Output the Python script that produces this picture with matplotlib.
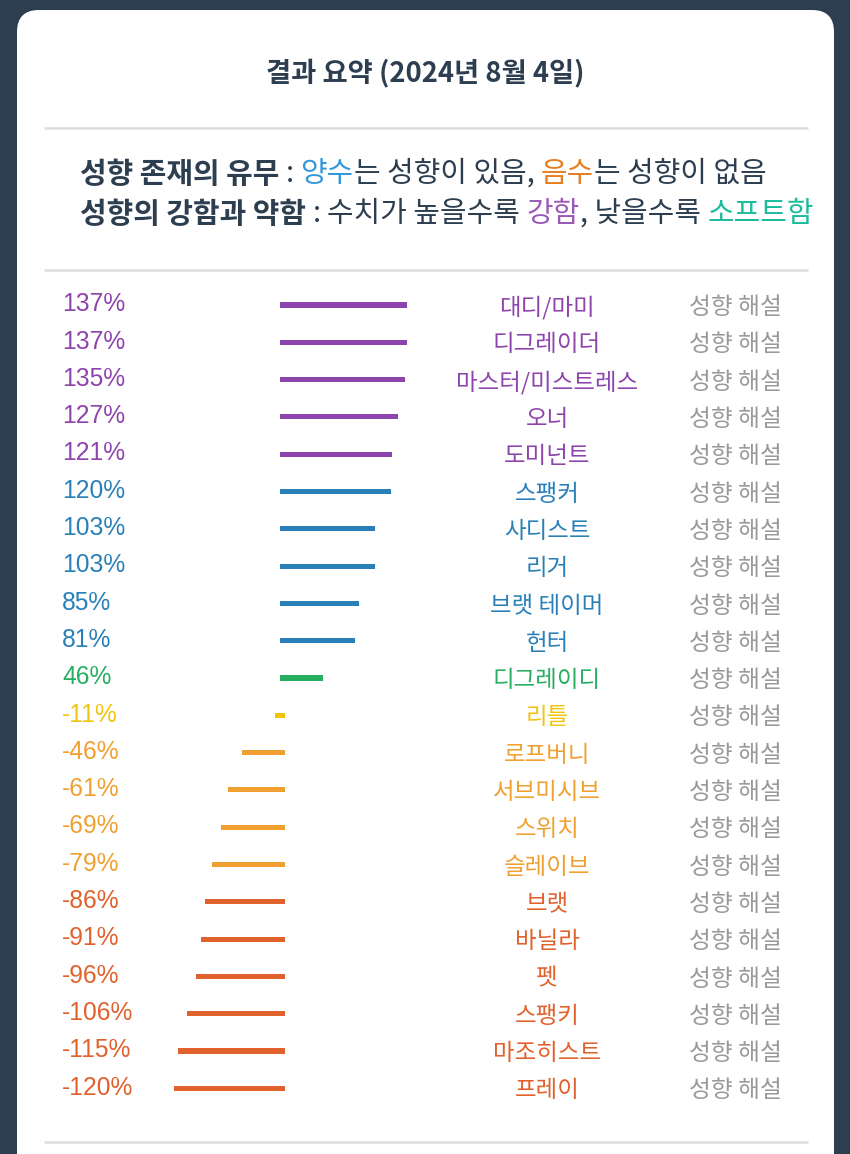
import numpy as np
import matplotlib
matplotlib.use("Agg")
import matplotlib.pyplot as plt
from matplotlib.patches import FancyBboxPatch
from matplotlib.transforms import blended_transform_factory

KR = ["Noto Sans CJK KR", "DejaVu Sans"]
NUM = ["Liberation Sans", "DejaVu Sans"]

names = ["대디/마미", "디그레이더", "마스터/미스트레스", "오너", "도미넌트",
         "스팽커", "사디스트", "리거", "브랫 테이머", "헌터",
         "디그레이디", "리틀", "로프버니", "서브미시브", "스위치",
         "슬레이브", "브랫", "바닐라", "펫", "스팽키", "마조히스트", "프레이"]
values = [137, 137, 135, 127, 121, 120, 103, 103, 85, 81, 46,
          -11, -46, -61, -69, -79, -86, -91, -96, -106, -115, -120]
groups = ["purple"] * 5 + ["blue"] * 5 + ["green"] + ["yellow"] + \
         ["orange"] * 4 + ["red"] * 6

palette = {
    "purple": "#8e44ad",
    "blue": "#2980b9",
    "green": "#27ae60",
    "yellow": "#f1c40f",
    "orange": "#f0a030",
    "red": "#e1612d",
}
DARK = "#2c3e50"

title = "결과 요약 (2024년 8월 4일)"
line1 = [("성향 존재의 유무", DARK, "bold"), (" : ", DARK, "normal"),
         ("양수", "#3498db", "normal"), ("는 성향이 있음, ", DARK, "normal"),
         ("음수", "#e67e22", "normal"), ("는 성향이 없음", DARK, "normal")]
line2 = [("성향의 강함과 약함", DARK, "bold"), (" : ", DARK, "normal"),
         ("수치가 높을수록 ", DARK, "normal"), ("강함", "#9b59b6", "normal"),
         (", 낮을수록 ", DARK, "normal"), ("소프트함", "#1abc9c", "normal")]

W, H = 850, 1154
fig = plt.figure(figsize=(W / 100, H / 100), dpi=100)
fig.patch.set_facecolor("#2c3e50")

# pixel-space layer for the card, rules and header text
deco = fig.add_axes([0, 0, 1, 1])
deco.set_xlim(0, W)
deco.set_ylim(H, 0)
deco.axis("off")
deco.add_patch(FancyBboxPatch((17, 10), 817, H + 40,
                              boxstyle="round,pad=0,rounding_size=22",
                              facecolor="white", edgecolor="none"))
for yy in (128, 270, 1142):
    deco.plot([44, 808], [yy, yy], color="#dddddd", lw=1.8,
              solid_capstyle="butt")

deco.text(425, 73, title, ha="center", va="center", fontsize=19.7,
          fontweight="bold", color=DARK, family=KR)

renderer = fig.canvas.get_renderer()


def text_width(s, size, weight):
    t = deco.text(0, 0, s, fontsize=size, fontweight=weight, family=KR)
    w = t.get_window_extent(renderer=renderer).width
    t.remove()
    return w


def draw_runs(x, y, runs, size):
    sp = {w: text_width("가 가", size, w) - text_width("가가", size, w)
          for w in ("normal", "bold")}
    for s, color, weight in runs:
        lead = len(s) - len(s.lstrip(" "))
        trail = len(s) - len(s.rstrip(" "))
        x += lead * sp[weight]
        core = s.strip(" ")
        t = deco.text(x, y, core, ha="left", va="center", fontsize=size,
                      fontweight=weight, color=color, family=KR)
        x += t.get_window_extent(renderer=renderer).width
        x += trail * sp[weight]


draw_runs(80, 174, line1, 20.8)
draw_runs(80, 214, line2, 20.8)

# bar area: rows start at y=305 px with 37.3 px pitch; zero at x=280 px
n = len(values)
pitch = 37.3
top = 305 - pitch / 2
x0_px, x1_px, zero_px, px_per = 150, 420, 280, 0.927
ax = fig.add_axes([x0_px / W, (H - top - n * pitch) / H,
                   (x1_px - x0_px) / W, n * pitch / H])
ax.set_xlim(-(zero_px - x0_px) / px_per, (x1_px - zero_px) / px_per)
ax.set_ylim(n - 0.5, -0.5)
ax.axis("off")
ax.patch.set_visible(False)

vals = np.array(values, dtype=float)
colors = [palette[g] for g in groups]
shift = 5.4  # negative bars end slightly right of zero
left = np.where(vals < 0, vals + shift, 0)
rows = np.arange(n)
ax.barh(rows, np.abs(vals), left=left, height=0.135, color=colors)

tr = blended_transform_factory(deco.transData, ax.transData)
for i, (nm, v, c) in enumerate(zip(names, values, colors)):
    ax.text(62, i - 0.02, f"{v}%", transform=tr, ha="left", va="center",
            fontsize=17.7, color=c, family=NUM)
    ax.text(547, i + 0.07, nm, transform=tr, ha="center", va="center",
            fontsize=16.9, color=c, family=KR)
    ax.text(735.5, i + 0.07, "성향 해설", transform=tr, ha="center",
            va="center", fontsize=17.1, color="#999999", family=KR)

fig.savefig("out.png", dpi=100, facecolor=fig.get_facecolor())
